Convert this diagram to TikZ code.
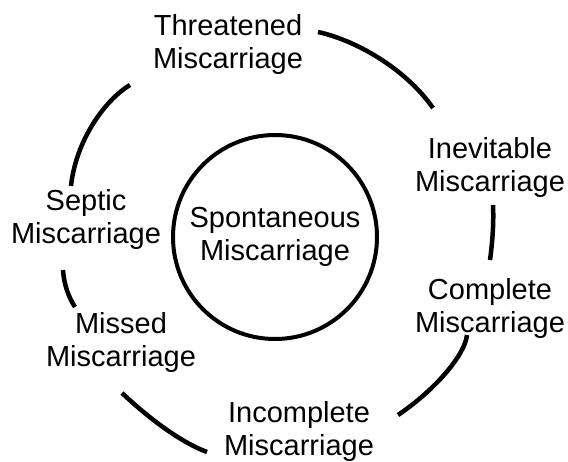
\documentclass[tikz,border=0pt]{standalone}
\usepackage{fontspec}
\setmainfont{Liberation Sans}
\begin{document}
\begin{tikzpicture}[x=1pt,y=-1pt,
  lbl/.style={inner sep=0pt,align=center,font=\fontsize{29}{33}\selectfont},
  arcline/.style={line width=4.5pt,black}]
\useasboundingbox (0,0) rectangle (568,461);
\node[lbl,draw,circle,line width=4pt,minimum size=204pt] (spont) at (275,237) {Spontaneous\\Miscarriage};
\node[lbl] (thr) at (228,44) {Threatened\\Miscarriage};
\node[lbl] (inev) at (490,167) {Inevitable\\Miscarriage};
\node[lbl] (comp) at (490,308) {Complete\\Miscarriage};
\node[lbl] (inc) at (299,431) {Incomplete\\Miscarriage};
\node[lbl] (miss) at (121,342) {Missed\\Miscarriage};
\node[lbl] (sept) at (86,219) {Septic\\Miscarriage};
\coordinate (a1s) at (318,32);  \coordinate (a1e) at (433,108);
\coordinate (a2s) at (493,205); \coordinate (a2e) at (490,260);
\coordinate (a3s) at (467,335); \coordinate (a3e) at (398,415);
\coordinate (a4s) at (122,393); \coordinate (a4e) at (207,452);
\coordinate (a5s) at (63,270);  \coordinate (a5e) at (75,307);
\coordinate (a6s) at (130,85);  \coordinate (a6e) at (71,186);
\draw[arcline] (a1s) .. controls (355,40) and (405,68) .. (a1e);
\draw[arcline] (a2s) .. controls (494,225) and (492,245) .. (a2e);
\draw[arcline] (a3s) .. controls (465,355) and (435,390) .. (a3e);
\draw[arcline] (a4s) .. controls (140,410) and (175,440) .. (a4e);
\draw[arcline] (a5s) .. controls (64,285) and (69,298) .. (a5e);
\draw[arcline] (a6s) .. controls (105,100) and (76,140) .. (a6e);
\end{tikzpicture}
\end{document}
